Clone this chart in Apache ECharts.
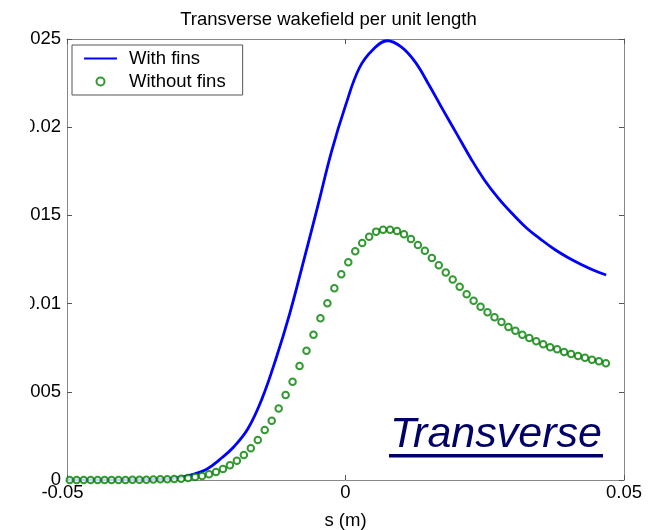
<!DOCTYPE html>
<html>
<head>
<meta charset="utf-8">
<script src="https://cdn.jsdelivr.net/npm/echarts@6/dist/echarts.min.js"></script>
<style>
html,body{margin:0;padding:0;background:#fff;}
#main{width:657px;height:530px;}
</style>
</head>
<body>
<div id="main"></div>
<script>
// with fins (solid blue line)
var sWith = [-0.05, -0.0475, -0.045, -0.0425, -0.04, -0.0375, -0.035, -0.0325, -0.03, -0.0275,
    -0.025, -0.0225, -0.02, -0.0175, -0.015, -0.0125, -0.01, -0.0075, -0.005, -0.0025,
    0, 0.0025, 0.005, 0.0075, 0.01, 0.0125, 0.015, 0.0175, 0.02, 0.0225,
    0.025, 0.0275, 0.03, 0.0325, 0.035, 0.0375, 0.04, 0.0425, 0.045, 0.0468];
var vWith = [0, 0, 0, 0, 0.00001, 0.00002, 0.00003, 0.00005, 0.00014, 0.00031,
    0.0006, 0.00118, 0.0019, 0.00292, 0.0046, 0.00686, 0.00945, 0.01244, 0.0155, 0.01863,
    0.02122, 0.02337, 0.02442, 0.0249, 0.02455, 0.0237, 0.02239, 0.02098, 0.01961, 0.01823,
    0.01698, 0.01595, 0.01508, 0.01429, 0.01366, 0.01308, 0.0126, 0.01219, 0.01183, 0.01162];

// without fins (green circles)
var sWithout = [-0.0495, -0.04825, -0.047, -0.04575, -0.0445, -0.04325, -0.042, -0.04075, -0.0395, -0.03825,
    -0.037, -0.03575, -0.0345, -0.03325, -0.032, -0.03075, -0.0295, -0.02825, -0.027, -0.02575,
    -0.0245, -0.02325, -0.022, -0.02075, -0.0195, -0.01825, -0.017, -0.01575, -0.0145, -0.01325,
    -0.012, -0.01075, -0.0095, -0.00825, -0.007, -0.00575, -0.0045, -0.00325, -0.002, -0.00075,
    0.0005, 0.00175, 0.003, 0.00425, 0.0055, 0.00675, 0.008, 0.00925, 0.0105, 0.01175,
    0.013, 0.01425, 0.0155, 0.01675, 0.018, 0.01925, 0.0205, 0.02175, 0.023, 0.02425,
    0.0255, 0.02675, 0.028, 0.02925, 0.0305, 0.03175, 0.033, 0.03425, 0.0355, 0.03675,
    0.038, 0.03925, 0.0405, 0.04175, 0.043, 0.04425, 0.0455, 0.04675];
var vWithout = [0, 0, 0, 0, 0, 0, 0, 0, 0, 0.00001,
    0.00002, 0.00002, 0.00003, 0.00004, 0.00004, 0.00006, 0.00007, 0.00011, 0.00017, 0.00023,
    0.00033, 0.00045, 0.00062, 0.00083, 0.00109, 0.00142, 0.0018, 0.00227, 0.00283, 0.00336,
    0.00406, 0.00482, 0.00557, 0.00646, 0.00733, 0.00824, 0.00917, 0.01002, 0.01087, 0.01166,
    0.01234, 0.01297, 0.01344, 0.01379, 0.01408, 0.01419, 0.01419, 0.01412, 0.01393, 0.01366,
    0.01332, 0.013, 0.01259, 0.01217, 0.01176, 0.01136, 0.01096, 0.01053, 0.01016, 0.00982,
    0.00951, 0.00922, 0.00896, 0.00867, 0.00846, 0.00824, 0.00805, 0.00786, 0.00769, 0.00752,
    0.00741, 0.00726, 0.00714, 0.00703, 0.00693, 0.00682, 0.00673, 0.00662];

function pairs(xs, ys) {
    return xs.map(function (x, i) { return [x, ys[i]]; });
}

var FONT = 'Liberation Sans, Arial, sans-serif';
var frame = { show: true, onZero: false, lineStyle: { color: '#888', width: 1 } };
var ticks = { show: true, inside: true, length: 5, lineStyle: { color: '#555' } };

var chart = echarts.init(document.getElementById('main'));
var option = {
    animation: false,
    backgroundColor: '#fff',
    title: {
        text: 'Transverse wakefield per unit length',
        left: 'center',
        top: 5,
        textStyle: { fontFamily: FONT, fontSize: 18.5, fontWeight: 'normal', color: '#000' }
    },
    legend: {
        orient: 'vertical',
        left: 72,
        top: 45,
        padding: [4, 17, 4, 11],
        itemGap: 4,
        itemWidth: 33,
        itemHeight: 8,
        symbolKeepAspect: true,
        borderColor: '#555',
        borderWidth: 1,
        backgroundColor: '#fff',
        textStyle: { fontFamily: FONT, fontSize: 18.5, color: '#000', lineHeight: 18, padding: [0, 0, 0, 7] },
        data: [
            { name: 'With fins', itemStyle: { opacity: 0 } },
            { name: 'Without fins' }
        ]
    },
    grid: { left: 67, right: 33, top: 39, bottom: 50, outerBoundsMode: 'none' },
    xAxis: [{
        type: 'value',
        position: 'bottom',
        min: -0.05,
        max: 0.05,
        interval: 0.05,
        name: 's (m)',
        nameLocation: 'middle',
        nameGap: 31,
        nameTextStyle: { fontFamily: FONT, fontSize: 18.5, color: '#000' },
        axisLine: frame,
        axisTick: ticks,
        splitLine: { show: false },
        axisLabel: {
            fontFamily: FONT, fontSize: 18.5, color: '#000', margin: 3,
            formatter: function (v) { return v < 0 ? '{n|' + v + '}' : String(v); },
            rich: { n: { fontFamily: FONT, fontSize: 18.5, color: '#000', padding: [0, 9, 0, 0] } }
        }
    }, {
        type: 'value',
        position: 'top',
        min: -0.05,
        max: 0.05,
        interval: 0.05,
        axisLine: frame,
        axisTick: ticks,
        splitLine: { show: false },
        axisLabel: { show: false }
    }],
    yAxis: [{
        type: 'value',
        position: 'left',
        min: 0,
        max: 0.025,
        interval: 0.005,
        axisLine: frame,
        axisTick: ticks,
        splitLine: { show: false },
        axisLabel: {
            fontFamily: FONT, fontSize: 18.5, color: '#000', margin: 6,
            formatter: function (v) { return v === 0 ? '0' : String(+v.toFixed(3)); }
        }
    }, {
        type: 'value',
        position: 'right',
        min: 0,
        max: 0.025,
        interval: 0.005,
        axisLine: frame,
        axisTick: ticks,
        splitLine: { show: false },
        axisLabel: { show: false }
    }],
    series: [{
        name: 'With fins',
        type: 'line',
        data: pairs(sWith, vWith),
        symbol: 'none',
        smooth: 0.4,
        lineStyle: { color: '#0000ff', width: 2.8 },
        itemStyle: { color: '#0000ff' },
        z: 2
    }, {
        name: 'Without fins',
        type: 'scatter',
        data: pairs(sWithout, vWithout),
        symbol: 'emptyCircle',
        symbolSize: 6.5,
        itemStyle: { color: '#008000', borderColor: '#008000', borderWidth: 2.5 },
        z: 3
    }],
    graphic: [{
        // the original figure cuts the tick labels off at its left edge
        type: 'rect',
        left: 0,
        top: 20,
        shape: { width: 30, height: 380 },
        style: { fill: '#fff' },
        z: 100
    }, {
        type: 'text',
        left: 390,
        top: 414,
        style: {
            text: 'Transverse',
            font: 'italic 43px ' + FONT,
            fill: '#000066'
        },
        z: 10
    }, {
        type: 'rect',
        left: 389,
        top: 454,
        shape: { width: 214, height: 3.5 },
        style: { fill: '#000066' },
        z: 10
    }]
};
chart.setOption(option);
</script>
</body>
</html>
